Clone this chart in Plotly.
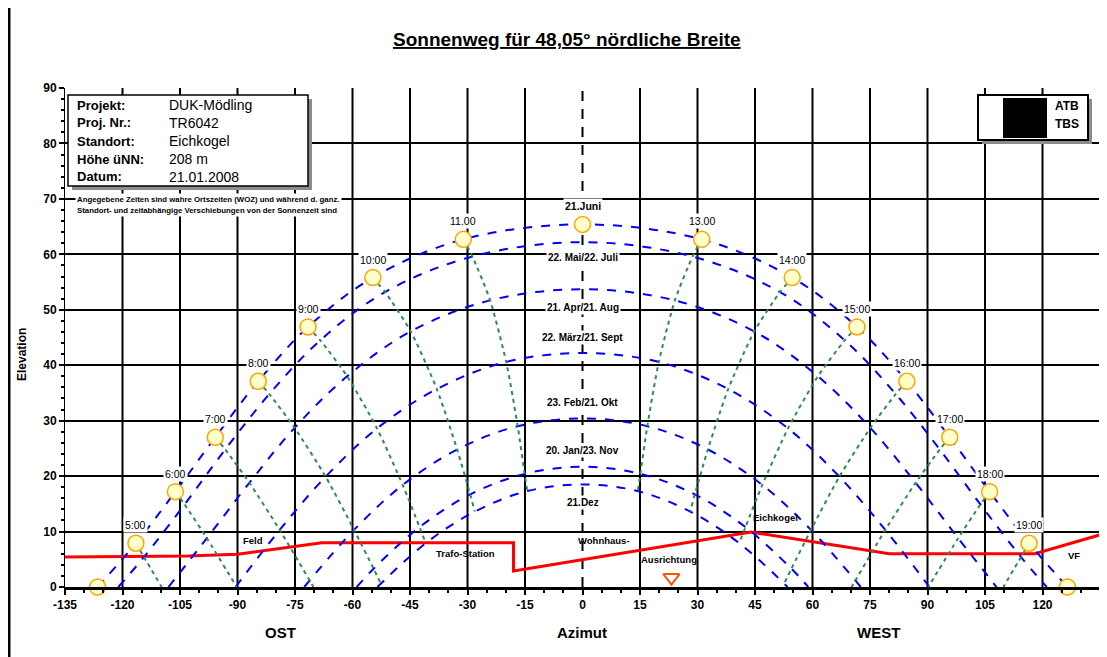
import plotly.graph_objects as go

# ---------------- data (azimuth from south, negative = east; elevation in degrees) ----------------
JUN_AZ = [-126.5, -116.5, -106.2, -95.8, -84.6, -71.6, -54.7, -31.1, 0, 31.1, 54.7, 71.6, 84.6, 95.8, 106.2, 116.5, 126.5]
JUN_EL = [0, 7.9, 17.2, 27.0, 37.1, 46.9, 55.8, 62.7, 65.4, 62.7, 55.8, 46.9, 37.1, 27.0, 17.2, 7.9, 0]

MAY_AZ = [-121.1, -114.4, -103.8, -93.2, -81.7, -68.4, -51.5, -28.7, 0, 28.7, 51.5, 68.4, 81.7, 93.2, 103.8, 114.4, 121.1]
MAY_EL = [0, 5.4, 14.9, 24.8, 34.8, 44.5, 53.2, 59.6, 62.2, 59.6, 53.2, 44.5, 34.8, 24.8, 14.9, 5.4, 0]

APR_AZ = [-108.0, -98.0, -86.9, -75.1, -61.4, -44.8, -24.1, 0, 24.1, 44.8, 61.4, 75.1, 86.9, 98.0, 108.0]
APR_EL = [0, 8.8, 18.8, 28.7, 38.0, 46.1, 51.7, 53.7, 51.7, 46.1, 38.0, 28.7, 18.8, 8.8, 0]

MAR_AZ = [-90.5, -79.0, -67.0, -53.6, -38.0, -19.9, 0, 19.9, 38.0, 53.6, 67.0, 79.0, 90.5]
MAR_EL = [0, 10.3, 19.9, 28.6, 35.7, 40.6, 42.2, 40.6, 35.7, 28.6, 19.9, 10.3, 0]

FEB_AZ = [-72.6, -59.6, -46.9, -32.7, -16.9, 0, 16.9, 32.7, 46.9, 59.6, 72.6]
FEB_EL = [0, 10.3, 18.4, 24.8, 29.0, 30.4, 29.0, 24.8, 18.4, 10.3, 0]

JAN_AZ = [-58.9, -54.5, -42.5, -29.3, -15.1, 0, 15.1, 29.3, 42.5, 54.5, 58.9]
JAN_EL = [0, 3.3, 10.8, 16.7, 20.4, 21.7, 20.4, 16.7, 10.8, 3.3, 0]

DEC_AZ = [-53.5, -40.9, -28.1, -14.4, 0, 14.4, 28.1, 40.9, 53.5]
DEC_EL = [0, 7.9, 13.6, 17.3, 18.5, 17.3, 13.6, 7.9, 0]

# hour lines (true solar time), from 21 June down to 21 Dec / horizon
H05_AZ = [-116.5, -114.4, -109.8]
H05_EL = [7.9, 5.4, 0]
H06_AZ = [-106.2, -103.8, -98.0, -90.2]
H06_EL = [17.2, 14.9, 8.8, 0]
H07_AZ = [-95.8, -93.2, -86.9, -79.0, -71.2, -70.2]
H07_EL = [27.0, 24.8, 18.8, 10.3, 1.2, 0]
H08_AZ = [-84.6, -81.7, -75.1, -67.0, -59.6, -54.5, -52.6]
H08_EL = [37.1, 34.8, 28.7, 19.9, 10.3, 3.3, 0.6]
H09_AZ = [-71.6, -68.4, -61.4, -53.6, -46.9, -42.5, -40.9]
H09_EL = [46.9, 44.5, 38.0, 28.6, 18.4, 10.8, 7.9]
H10_AZ = [-54.7, -51.5, -44.8, -38.0, -32.7, -29.3, -28.1]
H10_EL = [55.8, 53.2, 46.1, 35.7, 24.8, 16.7, 13.6]
H11_AZ = [-31.1, -28.7, -24.1, -19.9, -16.9, -15.1, -14.4]
H11_EL = [62.7, 59.6, 51.7, 40.6, 29.0, 20.4, 17.3]
H13_AZ = [31.1, 28.7, 24.1, 19.9, 16.9, 15.1, 14.4]
H13_EL = [62.7, 59.6, 51.7, 40.6, 29.0, 20.4, 17.3]
H14_AZ = [54.7, 51.5, 44.8, 38.0, 32.7, 29.3, 28.1]
H14_EL = [55.8, 53.2, 46.1, 35.7, 24.8, 16.7, 13.6]
H15_AZ = [71.6, 68.4, 61.4, 53.6, 46.9, 42.5, 40.9]
H15_EL = [46.9, 44.5, 38.0, 28.6, 18.4, 10.8, 7.9]
H16_AZ = [84.6, 81.7, 75.1, 67.0, 59.6, 54.5, 52.6]
H16_EL = [37.1, 34.8, 28.7, 19.9, 10.3, 3.3, 0.6]
H17_AZ = [95.8, 93.2, 86.9, 79.0, 71.2, 70.2]
H17_EL = [27.0, 24.8, 18.8, 10.3, 1.2, 0]
H18_AZ = [106.2, 103.8, 98.0, 90.2]
H18_EL = [17.2, 14.9, 8.8, 0]
H19_AZ = [116.5, 114.4, 109.8]
H19_EL = [7.9, 5.4, 0]

# sun markers on 21 June with their labels
SUN_LABELS = ["", "5:00", "6:00", "7:00", "8:00", "9:00", "10:00", "11.00", "<b>21.Juni</b>",
              "13.00", "14:00", "15:00", "16:00", "17:00", "18:00", "19:00", ""]

# date curve labels (placed at azimuth 0)
DATE_LABELS = ["22. Mai/22. Juli", "21. Apr/21. Aug", "22. März/21. Sept",
               "23. Feb/21. Okt", "20. Jan/23. Nov", "21.Dez"]
DATE_LABEL_EL = [59.5, 50.5, 45.0, 33.3, 24.7, 15.3]

# horizon (skyline)
SKY_AZ = [-135, -103, -90, -68, -18, -18, 44, 70, 80, 118, 135]
SKY_EL = [5.4, 5.6, 5.9, 8.0, 8.0, 2.9, 9.9, 7.0, 6.0, 6.0, 9.4]
SKY_LABELS = ["Feld", "Trafo-Station", "Wohnhaus-", "Ausrichtung", "Eichkogel", "VF"]
SKY_LABEL_AZ = [-85.9, -30.5, 5.5, 22.5, 50.4, 128.2]
SKY_LABEL_EL = [8.3, 6.1, 8.3, 5.0, 12.6, 5.6]

# orientation marker
AUS_AZ = [23.2]
AUS_EL = [1.7]

X_TICKS = [-135, -120, -105, -90, -75, -60, -45, -30, -15, 0, 15, 30, 45, 60, 75, 90, 105, 120, 135]
GRID_AZ = [-120, -105, -90, -75, -60, -45, -30, -15, 15, 30, 45, 60, 75, 90, 105, 120]

INFO_KEYS = ["Projekt:", "Proj. Nr.:", "Standort:", "Höhe üNN:", "Datum:"]
INFO_VALS = ["DUK-Mödling", "TR6042", "Eichkogel", "208 m", "21.01.2008"]
NOTE_LINES = ["Angegebene Zeiten sind wahre Ortszeiten (WOZ) und während d. ganz.",
              "Standort- und zeitabhängige Verschiebungen von der Sonnenzeit sind"]

TITLE = "Sonnenweg für 48,05° nördliche Breite"

# ---------------- layout geometry ----------------
OFF = 8                      # page body margin of the html page
W, H = 1107 - OFF, 657 - OFF
L, R, T, B = 65 - OFF, 7, 88 - OFF, 70
PW = W - L - R
PH = H - T - B


def xp(px):
    """page pixel x -> paper coordinate"""
    return (px - OFF - L) / PW


def yp(py):
    """page pixel y -> paper coordinate"""
    return (T + PH - (py - OFF)) / PH


FONT = "Liberation Sans, Arial, sans-serif"
BLUE = "#0000FF"
GREEN = "#2E8B57"

fig = go.Figure()


def paper_text(px_, py_, text, size, xanchor="center", **kw):
    fig.add_annotation(xref="paper", yref="paper", x=xp(px_), y=yp(py_), text=text,
                       xanchor=xanchor, yanchor="middle", showarrow=False,
                       font=dict(family=FONT, size=size, color="black"), **kw)


# vertical grid lines
for az in GRID_AZ:
    fig.add_shape(type="line", xref="x", yref="y", x0=az, x1=az, y0=0, y1=90,
                  line=dict(color="black", width=2), layer="below")
fig.add_shape(type="line", xref="x", yref="y", x0=0, x1=0, y0=0, y1=90,
              line=dict(color="black", width=2, dash="10px,8px"), layer="below")

# skyline
fig.add_trace(go.Scatter(x=SKY_AZ, y=SKY_EL, mode="lines",
                         line=dict(color="#FF0000", width=3), hoverinfo="skip"))

# date curves
for ax_, el_ in [(JUN_AZ, JUN_EL), (MAY_AZ, MAY_EL), (APR_AZ, APR_EL), (MAR_AZ, MAR_EL),
                 (FEB_AZ, FEB_EL), (JAN_AZ, JAN_EL), (DEC_AZ, DEC_EL)]:
    fig.add_trace(go.Scatter(x=ax_, y=el_, mode="lines",
                             line=dict(color=BLUE, width=2, dash="dash", shape="spline", smoothing=1.0),
                             hoverinfo="skip"))

# hour lines
for ax_, el_ in [(H05_AZ, H05_EL), (H06_AZ, H06_EL), (H07_AZ, H07_EL), (H08_AZ, H08_EL),
                 (H09_AZ, H09_EL), (H10_AZ, H10_EL), (H11_AZ, H11_EL), (H13_AZ, H13_EL),
                 (H14_AZ, H14_EL), (H15_AZ, H15_EL), (H16_AZ, H16_EL), (H17_AZ, H17_EL),
                 (H18_AZ, H18_EL), (H19_AZ, H19_EL)]:
    fig.add_trace(go.Scatter(x=ax_, y=el_, mode="lines",
                             line=dict(color=GREEN, width=2, dash="4px,4px", shape="spline", smoothing=0.6),
                             hoverinfo="skip"))

# sun markers
fig.add_trace(go.Scatter(x=JUN_AZ, y=JUN_EL, mode="markers", cliponaxis=False,
                         marker=dict(size=16, color="#FFFFCC", line=dict(color="#FFA500", width=1.5)),
                         hoverinfo="skip"))

# orientation marker
fig.add_trace(go.Scatter(x=AUS_AZ, y=AUS_EL, mode="markers", cliponaxis=False,
                         marker=dict(symbol="triangle-down-open", size=14, color="#FF5500",
                                     line=dict(color="#FF5500", width=2)),
                         hoverinfo="skip"))

# hour labels
for az, el, lab in zip(JUN_AZ, JUN_EL, SUN_LABELS):
    if lab:
        fig.add_annotation(x=az, y=el, text=lab, showarrow=False, yshift=18,
                           bgcolor="white", borderpad=1,
                           font=dict(family=FONT, size=10.5, color="black"))

# date labels
for lab, el in zip(DATE_LABELS, DATE_LABEL_EL):
    fig.add_annotation(x=0, y=el, text="<b>" + lab + "</b>", showarrow=False,
                       bgcolor="white", borderpad=1,
                       font=dict(family=FONT, size=10, color="black"))

# skyline labels
for lab, az, el in zip(SKY_LABELS, SKY_LABEL_AZ, SKY_LABEL_EL):
    fig.add_annotation(x=az, y=el, text="<b>" + lab + "</b>", showarrow=False,
                       font=dict(family=FONT, size=9.5, color="black"))

# title
paper_text(567, 40, "<b><u>" + TITLE + "</u></b>", 19)

# axis titles
for lab, px_ in [("OST", 280), ("Azimut", 582), ("WEST", 878)]:
    paper_text(px_, 632, "<b>" + lab + "</b>", 15)
paper_text(22, 355, "<b>Elevation</b>", 12, textangle=-90)

# info box
fig.add_shape(type="rect", xref="paper", yref="paper", x0=xp(72), x1=xp(312), y0=yp(190), y1=yp(99),
              fillcolor="#8c8c8c", line=dict(width=0), layer="above")
fig.add_shape(type="rect", xref="paper", yref="paper", x0=xp(68), x1=xp(308), y0=yp(186), y1=yp(95),
              fillcolor="white", line=dict(color="black", width=1.5), layer="above")
for i, (k, v) in enumerate(zip(INFO_KEYS, INFO_VALS)):
    ypix = 105 + i * 18
    paper_text(75, ypix, "<b>" + k + "</b>", 13, xanchor="left")
    paper_text(167, ypix, v, 14, xanchor="left")
for i, line in enumerate(NOTE_LINES):
    paper_text(75, 199 + i * 11, "<b>" + line + "</b>", 7.8, xanchor="left", bgcolor="white")

# logo
fig.add_shape(type="rect", xref="paper", yref="paper", x0=xp(982), x1=xp(1092), y0=yp(144), y1=yp(99),
              fillcolor="#8c8c8c", line=dict(width=0), layer="above")
fig.add_shape(type="rect", xref="paper", yref="paper", x0=xp(978), x1=xp(1088), y0=yp(140), y1=yp(95),
              fillcolor="white", line=dict(color="black", width=2), layer="above")
fig.add_shape(type="rect", xref="paper", yref="paper", x0=xp(1003), x1=xp(1047), y0=yp(138), y1=yp(98),
              fillcolor="black", line=dict(width=0), layer="above")
paper_text(1067, 106, "<b>ATB</b>", 12)
paper_text(1067, 124, "<b>TBS</b>", 12)

# page frame line at left
fig.add_shape(type="line", xref="paper", yref="paper", x0=xp(9), x1=xp(9), y0=yp(0), y1=yp(660),
              line=dict(color="black", width=3), layer="above")

fig.update_layout(
    width=W, height=H,
    margin=dict(l=L, r=R, t=T, b=B, pad=0),
    paper_bgcolor="white", plot_bgcolor="white",
    showlegend=False,
    font=dict(family=FONT, color="black"),
    xaxis=dict(range=[-135, 135], tickmode="array", tickvals=X_TICKS,
               ticktext=["<b>%d</b>" % v for v in X_TICKS],
               tickfont=dict(family=FONT, size=12, color="black"),
               showgrid=False, zeroline=False, showline=True, linecolor="black", linewidth=3,
               ticks="outside", ticklen=5, tickwidth=2, tickcolor="black",
               minor=dict(dtick=5, tick0=0, ticks="outside", ticklen=3, tickwidth=1.5, tickcolor="black"),
               fixedrange=True),
    yaxis=dict(range=[0, 90], dtick=10, tick0=0,
               tickfont=dict(family=FONT, size=12, color="black"),
               tickprefix="<b>", ticksuffix="</b>",
               showgrid=True, gridcolor="black", gridwidth=2, zeroline=False,
               showline=True, linecolor="black", linewidth=1,
               ticks="outside", ticklen=5, tickwidth=2, tickcolor="black",
               minor=dict(dtick=2, ticks="outside", ticklen=3, tickwidth=1.5, tickcolor="black"),
               fixedrange=True),
)

fig.write_html("out.html")
